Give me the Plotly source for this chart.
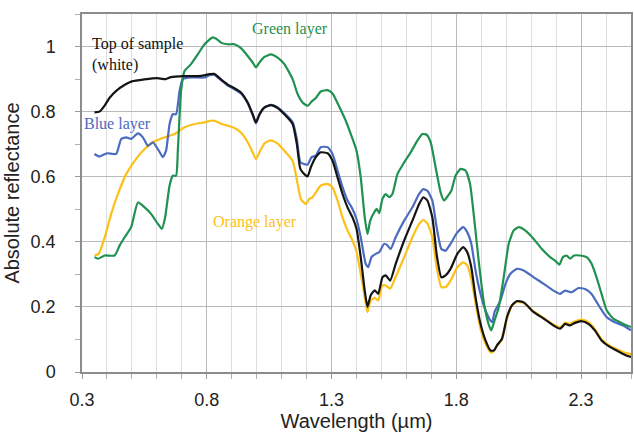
import plotly.graph_objects as go

# ---- data (wavelength in µm, absolute reflectance) ----
top_wl = [0.35, 0.37, 0.39, 0.41, 0.437, 0.47, 0.50, 0.55, 0.60, 0.635, 0.657, 0.71, 0.777, 0.81, 0.83,
          0.857, 0.884, 0.911, 0.937, 0.964, 0.984, 0.997, 1.011, 1.031, 1.057, 1.084, 1.111, 1.144, 1.161,
          1.175, 1.191, 1.204, 1.217, 1.237, 1.257, 1.284, 1.304, 1.324, 1.344, 1.364, 1.384, 1.40, 1.417,
          1.433, 1.444, 1.457, 1.473, 1.487, 1.504, 1.517, 1.535, 1.557, 1.591, 1.624, 1.651, 1.668, 1.684,
          1.704, 1.721, 1.740, 1.757, 1.777, 1.804, 1.828, 1.844, 1.860, 1.877, 1.897, 1.917, 1.937, 1.951,
          1.963, 1.983, 2.003, 2.023, 2.043, 2.070, 2.110, 2.150, 2.189, 2.216, 2.236, 2.256, 2.276, 2.303,
          2.329, 2.355, 2.382, 2.415, 2.455, 2.481, 2.500]
top_refl = [0.798, 0.800, 0.818, 0.842, 0.864, 0.882, 0.893, 0.899, 0.903, 0.900, 0.906, 0.909, 0.910, 0.915, 0.916,
            0.899, 0.883, 0.872, 0.859, 0.828, 0.792, 0.767, 0.792, 0.813, 0.820, 0.811, 0.792, 0.762, 0.700,
            0.624, 0.608, 0.601, 0.629, 0.660, 0.675, 0.672, 0.649, 0.598, 0.547, 0.506, 0.475, 0.440, 0.353,
            0.250, 0.200, 0.236, 0.251, 0.240, 0.291, 0.297, 0.281, 0.332, 0.404, 0.465, 0.516, 0.537, 0.527,
            0.475, 0.363, 0.291, 0.297, 0.317, 0.363, 0.384, 0.368, 0.322, 0.230, 0.148, 0.097, 0.066, 0.066,
            0.082, 0.102, 0.169, 0.205, 0.218, 0.214, 0.184, 0.164, 0.143, 0.133, 0.148, 0.143, 0.151, 0.156,
            0.148, 0.128, 0.097, 0.077, 0.061, 0.051, 0.046]

blue_wl = [0.35, 0.37, 0.40, 0.437, 0.457, 0.477, 0.497, 0.524, 0.544, 0.564, 0.584, 0.604, 0.624, 0.637, 0.651,
           0.664, 0.677, 0.691, 0.704, 0.737, 0.791, 0.811, 0.831, 0.857, 0.884, 0.911, 0.937, 0.964, 0.984,
           0.997, 1.011, 1.031, 1.057, 1.084, 1.111, 1.144, 1.161, 1.175, 1.191, 1.204, 1.220, 1.237, 1.257,
           1.284, 1.304, 1.324, 1.344, 1.364, 1.384, 1.40, 1.417, 1.437, 1.447, 1.460, 1.477, 1.491, 1.511,
           1.524, 1.537, 1.557, 1.591, 1.624, 1.651, 1.668, 1.684, 1.704, 1.721, 1.740, 1.757, 1.777, 1.804,
           1.828, 1.844, 1.860, 1.877, 1.897, 1.917, 1.937, 1.944, 1.953, 1.977, 1.997, 2.017, 2.043, 2.070,
           2.110, 2.150, 2.189, 2.216, 2.236, 2.262, 2.289, 2.316, 2.342, 2.375, 2.402, 2.435, 2.468, 2.500]
blue_refl = [0.670, 0.662, 0.672, 0.670, 0.716, 0.721, 0.716, 0.733, 0.721, 0.695, 0.706, 0.685, 0.660, 0.680, 0.762,
             0.792, 0.792, 0.864, 0.900, 0.905, 0.905, 0.912, 0.913, 0.897, 0.880, 0.869, 0.856, 0.826, 0.790,
             0.764, 0.790, 0.812, 0.821, 0.813, 0.795, 0.768, 0.715, 0.644, 0.639, 0.637, 0.660, 0.665, 0.691,
             0.691, 0.670, 0.619, 0.568, 0.527, 0.501, 0.470, 0.414, 0.332, 0.322, 0.353, 0.363, 0.368, 0.394,
             0.389, 0.378, 0.414, 0.465, 0.506, 0.547, 0.562, 0.557, 0.527, 0.445, 0.378, 0.373, 0.394, 0.429,
             0.445, 0.429, 0.394, 0.312, 0.240, 0.189, 0.158, 0.153, 0.184, 0.220, 0.271, 0.302, 0.317, 0.312,
             0.291, 0.271, 0.250, 0.240, 0.250, 0.245, 0.258, 0.255, 0.240, 0.199, 0.169, 0.153, 0.143, 0.128]

orange_wl = [0.35, 0.367, 0.391, 0.417, 0.444, 0.477, 0.511, 0.551, 0.591, 0.631, 0.671, 0.711, 0.751, 0.791,
             0.817, 0.831, 0.857, 0.884, 0.911, 0.937, 0.964, 0.984, 0.997, 1.011, 1.031, 1.057, 1.084, 1.111,
             1.144, 1.164, 1.177, 1.197, 1.211, 1.224, 1.237, 1.257, 1.284, 1.304, 1.324, 1.344, 1.364, 1.384,
             1.40, 1.417, 1.433, 1.444, 1.457, 1.473, 1.487, 1.504, 1.517, 1.535, 1.557, 1.591, 1.624, 1.651,
             1.668, 1.684, 1.704, 1.721, 1.740, 1.757, 1.777, 1.804, 1.828, 1.844, 1.860, 1.877, 1.897, 1.917,
             1.937, 1.944, 1.963, 1.983, 2.003, 2.023, 2.043, 2.070, 2.110, 2.150, 2.189, 2.216, 2.236, 2.256,
             2.276, 2.303, 2.329, 2.355, 2.382, 2.415, 2.455, 2.481, 2.500]
orange_refl = [0.358, 0.363, 0.414, 0.486, 0.547, 0.608, 0.649, 0.685, 0.709, 0.721, 0.731, 0.752, 0.762, 0.767,
               0.772, 0.772, 0.763, 0.757, 0.750, 0.736, 0.706, 0.675, 0.654, 0.675, 0.702, 0.712, 0.702, 0.680,
               0.649, 0.578, 0.532, 0.516, 0.532, 0.537, 0.552, 0.573, 0.578, 0.567, 0.527, 0.475, 0.435, 0.404,
               0.370, 0.302, 0.230, 0.184, 0.220, 0.228, 0.220, 0.266, 0.266, 0.256, 0.292, 0.353, 0.414, 0.455,
               0.467, 0.457, 0.414, 0.322, 0.261, 0.261, 0.281, 0.322, 0.337, 0.327, 0.286, 0.210, 0.133, 0.087,
               0.061, 0.060, 0.080, 0.100, 0.164, 0.205, 0.215, 0.212, 0.186, 0.166, 0.146, 0.137, 0.152, 0.148,
               0.156, 0.161, 0.153, 0.132, 0.101, 0.081, 0.066, 0.058, 0.055]

green_wl = [0.35, 0.364, 0.391, 0.431, 0.451, 0.471, 0.497, 0.524, 0.551, 0.577, 0.604, 0.620, 0.633, 0.651,
            0.664, 0.677, 0.684, 0.697, 0.711, 0.737, 0.764, 0.791, 0.824, 0.845, 0.857, 0.884, 0.911, 0.937,
            0.964, 0.984, 0.997, 1.011, 1.031, 1.057, 1.084, 1.111, 1.144, 1.164, 1.184, 1.204, 1.220, 1.237,
            1.257, 1.284, 1.304, 1.331, 1.357, 1.380, 1.400, 1.417, 1.433, 1.444, 1.455, 1.471, 1.481, 1.491,
            1.504, 1.517, 1.531, 1.544, 1.564, 1.591, 1.617, 1.644, 1.664, 1.681, 1.697, 1.717, 1.737, 1.751,
            1.767, 1.780, 1.797, 1.817, 1.837, 1.855, 1.871, 1.891, 1.911, 1.931, 1.940, 1.953, 1.970, 1.990,
            2.010, 2.030, 2.050, 2.076, 2.110, 2.143, 2.176, 2.196, 2.213, 2.227, 2.242, 2.256, 2.272, 2.296,
            2.322, 2.342, 2.362, 2.382, 2.403, 2.429, 2.456, 2.483, 2.500]
green_refl = [0.353, 0.348, 0.358, 0.358, 0.389, 0.414, 0.445, 0.521, 0.506, 0.486, 0.455, 0.440, 0.475, 0.573,
              0.603, 0.603, 0.680, 0.864, 0.925, 0.946, 0.976, 1.007, 1.028, 1.020, 1.012, 1.007, 1.007, 0.995,
              0.971, 0.951, 0.936, 0.951, 0.968, 0.976, 0.966, 0.946, 0.900, 0.854, 0.828, 0.818, 0.831, 0.842,
              0.862, 0.866, 0.856, 0.815, 0.772, 0.725, 0.680, 0.598, 0.475, 0.424, 0.465, 0.491, 0.501, 0.488,
              0.532, 0.547, 0.537, 0.547, 0.608, 0.644, 0.675, 0.711, 0.731, 0.729, 0.706, 0.629, 0.552, 0.527,
              0.542, 0.557, 0.603, 0.624, 0.619, 0.578, 0.475, 0.332, 0.210, 0.143, 0.128, 0.158, 0.199, 0.291,
              0.394, 0.435, 0.445, 0.435, 0.409, 0.378, 0.353, 0.342, 0.330, 0.353, 0.358, 0.348, 0.358, 0.358,
              0.353, 0.333, 0.291, 0.240, 0.189, 0.164, 0.153, 0.143, 0.138]

series_names = ["Orange layer", "Blue layer", "Green layer", "Top of sample (white)"]
x_tick_vals = [0.3, 0.8, 1.3, 1.8, 2.3]
y_tick_vals = [0, 0.2, 0.4, 0.6, 0.8, 1.0]

C_GREEN = "#1f9150"
C_BLUE = "#4a6bbf"
C_ORANGE = "#fdc018"
C_BLACK = "#141414"

fig = go.Figure()
for wl, refl, name, col in [
    (orange_wl, orange_refl, series_names[0], C_ORANGE),
    (blue_wl, blue_refl, series_names[1], C_BLUE),
    (green_wl, green_refl, series_names[2], C_GREEN),
    (top_wl, top_refl, series_names[3], C_BLACK),
]:
    fig.add_trace(go.Scatter(x=wl, y=refl, mode="lines", name=name,
                             line=dict(color=col, width=2.2, shape="spline", smoothing=0.5),
                             showlegend=False))

serif = "Liberation Serif, Times New Roman, serif"
ann = [
    dict(x=0.332, y=1.008, text="Top of sample", color="#111111", xanchor="left"),
    dict(x=0.332, y=0.944, text="(white)", color="#111111", xanchor="left"),
    dict(x=1.134, y=1.053, text="Green layer", color=C_GREEN, xanchor="center"),
    dict(x=0.442, y=0.762, text="Blue layer", color=C_BLUE, xanchor="center"),
    dict(x=0.994, y=0.460, text="Orange layer", color=C_ORANGE, xanchor="center"),
]
for a in ann:
    fig.add_annotation(x=a["x"], y=a["y"], text=a["text"], showarrow=False,
                       xanchor=a["xanchor"], yanchor="middle",
                       font=dict(family=serif, size=16, color=a["color"]))

sans = "Liberation Sans, Arial, sans-serif"
fig.update_layout(
    width=634, height=433,
    margin=dict(l=82, r=1, t=14, b=61),
    paper_bgcolor="white", plot_bgcolor="white",
    font=dict(family=sans, size=18, color="#222222"),
    xaxis=dict(
        range=[0.3, 2.5], tickvals=x_tick_vals, ticktext=[str(v) for v in x_tick_vals],
        showgrid=True, gridcolor="#b9b9b9", gridwidth=1.3,
        ticks="outside", ticklen=5, tickcolor="#999999",
        showline=True, linecolor="#8c8c8c", linewidth=1.5, mirror=True,
        zeroline=False, ticklabelstandoff=6,
        minor=dict(dtick=0.1, tick0=0.3, showgrid=True, gridcolor="#dedede", gridwidth=1,
                   ticks="outside", ticklen=5, tickcolor="#b0b0b0"),
        title=dict(text="Wavelength (µm)", font=dict(size=20, color="#222222"), standoff=4),
        tickfont=dict(size=18, color="#222222"),
    ),
    yaxis=dict(
        range=[0, 1.1], tickvals=y_tick_vals, ticktext=["0", "0.2", "0.4", "0.6", "0.8", "1"],
        showgrid=True, gridcolor="#b9b9b9", gridwidth=1.3,
        ticks="outside", ticklen=5, tickcolor="#999999",
        showline=True, linecolor="#8c8c8c", linewidth=1.5, mirror=True,
        zeroline=False, ticklabelstandoff=16,
        minor=dict(dtick=0.1, tick0=0, showgrid=False,
                   ticks="outside", ticklen=5, tickcolor="#b0b0b0"),
        title=dict(text="Absolute reflectance", font=dict(size=20, color="#222222"), standoff=6),
        tickfont=dict(size=18, color="#222222"),
    ),
)

fig.write_html("out.html")
